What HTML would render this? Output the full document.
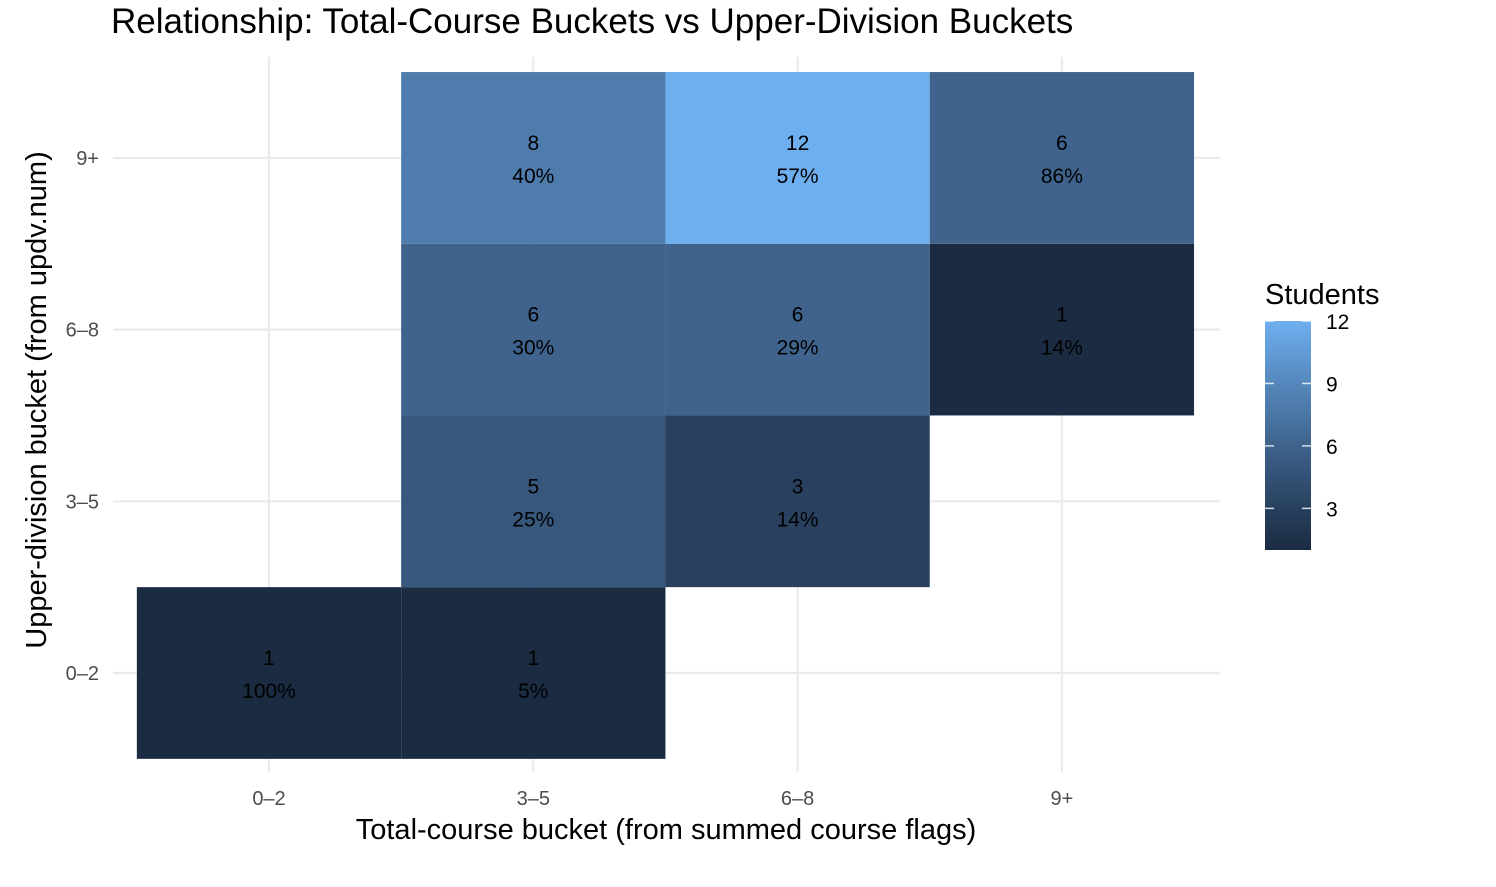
<!DOCTYPE html>
<html><head><meta charset="utf-8"><style>
body{margin:0;background:#fff;font-family:"Liberation Sans",Arial,sans-serif}
</style></head><body>
<svg id="chart" width="1496" height="882" xmlns="http://www.w3.org/2000/svg" font-family="Liberation Sans, Arial, sans-serif"></svg>
<script>
const xCats=["0–2","3–5","6–8","9+"];
const yCats=["0–2","3–5","6–8","9+"];
const cellX=["0–2","3–5","3–5","3–5","3–5","6–8","6–8","6–8","9+","9+"];
const cellY=["0–2","0–2","3–5","6–8","9+","3–5","6–8","9+","6–8","9+"];
const counts=[1,1,5,6,8,3,6,12,1,6];
const pcts=["100%","5%","25%","30%","40%","14%","29%","57%","14%","86%"];
const legendTicks=[3,6,9,12];
const vmin=1,vmax=12;
const svg=document.getElementById('chart');const NS="http://www.w3.org/2000/svg";
function mk(t,a,p){const e=document.createElementNS(NS,t);for(const k in a)e.setAttribute(k,a[k]);(p||svg).appendChild(e);return e;}
const xs=i=>269+i*264.3, ys=i=>673-i*171.7, bw=264.3, bh=171.7;
function toLab(h){let c=[1,3,5].map(i=>parseInt(h.substr(i,2),16)/255).map(v=>v>0.04045?Math.pow((v+0.055)/1.055,2.4):v/12.92);
let X=(c[0]*0.4124+c[1]*0.3576+c[2]*0.1805)/0.95047,Y=c[0]*0.2126+c[1]*0.7152+c[2]*0.0722,Z=(c[0]*0.0193+c[1]*0.1192+c[2]*0.9505)/1.08883;
const f=t=>t>0.008856?Math.cbrt(t):7.787*t+16/116;return [116*f(Y)-16,500*(f(X)-f(Y)),200*(f(Y)-f(Z))];}
function fromLab(l){let y=(l[0]+16)/116,x=l[1]/500+y,z=y-l[2]/200;const g=t=>t*t*t>0.008856?t*t*t:(t-16/116)/7.787;
x=g(x)*0.95047;y=g(y);z=g(z)*1.08883;let r=x*3.2406+y*-1.5372+z*-0.4986,gg=x*-0.9689+y*1.8758+z*0.0415,b=x*0.0557+y*-0.2040+z*1.0570;
return '#'+[r,gg,b].map(v=>{v=v>0.0031308?1.055*Math.pow(v,1/2.4)-0.055:12.92*v;return Math.round(Math.max(0,Math.min(1,v))*255).toString(16).padStart(2,'0')}).join('');}
const lo=toLab("#1B2B42"),hi=toLab("#6EAFF0");
const col=v=>{const t=(v-vmin)/(vmax-vmin);return fromLab(lo.map((a,i)=>a+(hi[i]-a)*t));};
const g=mk('g',{});
xCats.forEach((c,i)=>{const l=mk('line',{x1:xs(i),x2:xs(i),y1:57,y2:772,stroke:'#ebebeb','stroke-width':2.2},g);});
yCats.forEach((c,i)=>{const l=mk('line',{x1:113,x2:1220,y1:ys(i),y2:ys(i),stroke:'#ebebeb','stroke-width':2.2},g);});
counts.forEach((v,k)=>{const xi=xCats.indexOf(cellX[k]),yi=yCats.indexOf(cellY[k]);const cx=xs(xi),cy=ys(yi);
const r=mk('rect',{x:cx-bw/2,y:cy-bh/2,width:bw,height:bh,fill:col(v)});});
counts.forEach((v,k)=>{const xi=xCats.indexOf(cellX[k]),yi=yCats.indexOf(cellY[k]);const cx=xs(xi),cy=ys(yi);
const t=mk('text',{x:cx,y:cy-8,'text-anchor':'middle','font-size':21,fill:'#000'});t.textContent=v;
const p=mk('text',{x:cx,y:cy+25,'text-anchor':'middle','font-size':21,fill:'#000'});p.textContent=pcts[k];});
xCats.forEach((c,i)=>{const t=mk('text',{x:xs(i),y:805,'text-anchor':'middle','font-size':20,fill:'#4d4d4d'});t.textContent=c;});
yCats.forEach((c,i)=>{const t=mk('text',{x:99,y:ys(i)+7,'text-anchor':'end','font-size':20,fill:'#4d4d4d'});t.textContent=c;});
let t=mk('text',{x:666,y:839,'text-anchor':'middle','font-size':29,fill:'#000'});t.textContent="Total-course bucket (from summed course flags)";
t=mk('text',{x:0,y:0,'text-anchor':'middle','font-size':29,fill:'#000',transform:'translate(46,400) rotate(-90)'});t.textContent="Upper-division bucket (from updv.num)";
t=mk('text',{x:111,y:33,'font-size':35,fill:'#000'});t.textContent="Relationship: Total-Course Buckets vs Upper-Division Buckets";
const lg=mk('g',{});
t=mk('text',{x:1265,y:304,'font-size':29,fill:'#000'},lg);t.textContent="Students";
const defs=mk('defs',{});const gr=mk('linearGradient',{id:'lgr',x1:0,y1:1,x2:0,y2:0},defs);
for(let i=0;i<=10;i++){mk('stop',{offset:i/10,'stop-color':col(vmin+(vmax-vmin)*i/10)},gr);}
const ly=v=>550-(v-vmin)/(vmax-vmin)*229;
const cb=mk('rect',{x:1265,y:ly(vmax),width:46,height:ly(vmin)-ly(vmax),fill:'url(#lgr)'},lg);
legendTicks.forEach(v=>{const y=ly(v);mk('line',{x1:1265,x2:1274,y1:y,y2:y,stroke:'#fff','stroke-width':1.5,opacity:0.8},lg);mk('line',{x1:1302,x2:1311,y1:y,y2:y,stroke:'#fff','stroke-width':1.5,opacity:0.8},lg);
const tt=mk('text',{x:1326,y:y+8,'font-size':21,fill:'#000'},lg);tt.textContent=v;});
</script>
</body></html>
